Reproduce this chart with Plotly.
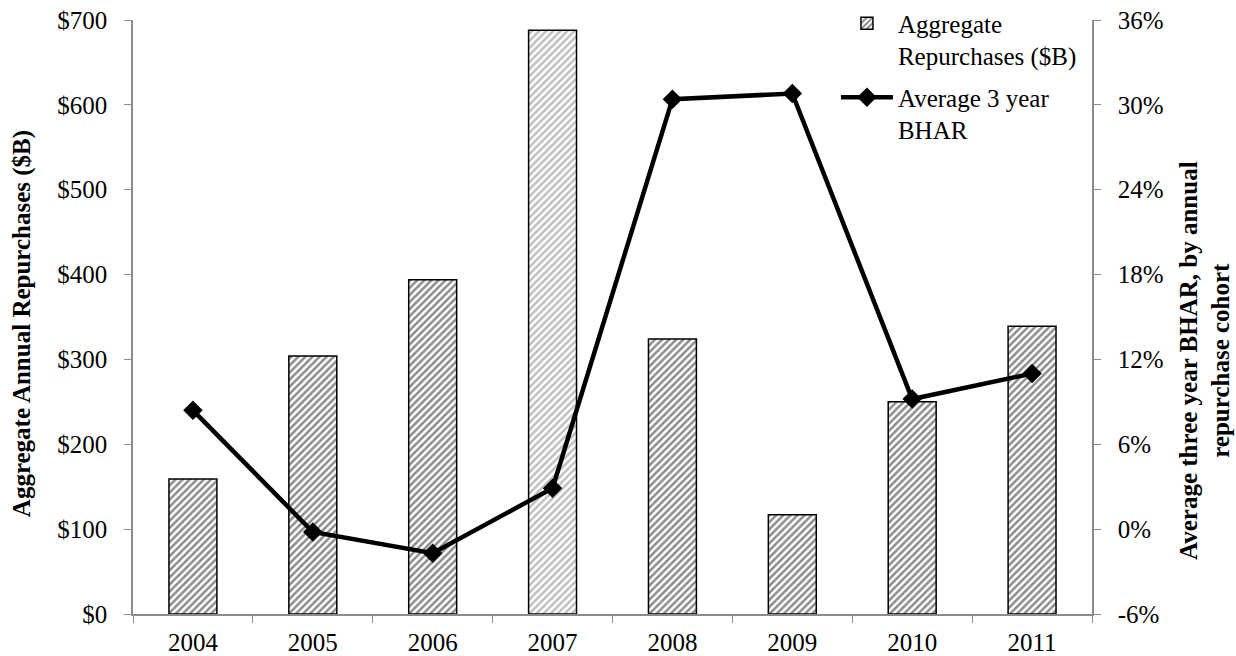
import plotly.graph_objects as go

years = ["2004", "2005", "2006", "2007", "2008", "2009", "2010", "2011"]
repurchases_bn = [159, 304, 394, 688, 324, 117, 250, 339]
bhar_3yr_pct = [8.4, -0.2, -1.7, 2.9, 30.4, 30.8, 9.2, 11.0]
left_ticks = [0, 100, 200, 300, 400, 500, 600, 700]
right_ticks = [-6, 0, 6, 12, 18, 24, 30, 36]

FONT = "Liberation Serif"
AXIS_GRAY = "#8c8c8c"
FS = 25

stripe_colors = ["#1a1a1a"] * len(years)
stripe_colors[3] = "#808080"

fig = go.Figure()

fig.add_trace(go.Bar(
    x=years,
    y=repurchases_bn,
    name="Aggregate<br>Repurchases ($B)",
    legendgroup="bars",
    width=0.4,
    marker=dict(
        color="white",
        line=dict(color="black", width=1.5),
        pattern=dict(shape="/", fgcolor=stripe_colors, bgcolor="white",
                     size=5, solidity=0.5),
    ),
    yaxis="y",
))

fig.add_trace(go.Scatter(
    x=years,
    y=bhar_3yr_pct,
    name="Average 3 year<br>BHAR",
    legendgroup="line",
    mode="lines+markers",
    line=dict(color="black", width=4.5),
    marker=dict(symbol="diamond", size=15, color="black"),
    yaxis="y2",
))

axis_common = dict(
    ticks="outside",
    ticklen=7,
    tickcolor=AXIS_GRAY,
    showline=True,
    linecolor=AXIS_GRAY,
    linewidth=1.5,
    showgrid=False,
    automargin=False,
    tickfont=dict(family=FONT, size=FS, color="black"),
)

fig.update_layout(
    width=1236,
    height=656,
    margin=dict(l=133, r=144, t=20, b=42, autoexpand=False),
    paper_bgcolor="white",
    plot_bgcolor="white",
    font=dict(family=FONT, size=FS, color="black"),
    showlegend=True,
    legend=dict(
        x=0.733, y=1.033, xanchor="left", yanchor="top",
        bgcolor="rgba(255,255,255,0)",
        font=dict(family=FONT, size=FS, color="black"),
        valign="top",
        traceorder="grouped",
        tracegroupgap=6,
        itemwidth=52,
    ),
    xaxis=dict(type="category", tickson="boundaries", ticklabelstandoff=5,
               **axis_common),
    yaxis=dict(
        range=[0, 700],
        tickvals=left_ticks,
        ticktext=[f"${v}" for v in left_ticks],
        zeroline=False,
        ticklabelstandoff=12,
        **axis_common,
    ),
    yaxis2=dict(
        range=[-6, 36],
        tickvals=right_ticks,
        ticktext=[f"{v}%" for v in right_ticks],
        overlaying="y",
        side="right",
        zeroline=False,
        ticklabelstandoff=12,
        **axis_common,
    ),
    annotations=[
        dict(
            text="<b>Aggregate Annual Repurchases ($B)</b>",
            xref="paper", yref="paper",
            x=-0.1157, y=0.488,
            xanchor="center", yanchor="middle",
            textangle=-90, showarrow=False,
            font=dict(family=FONT, size=FS, color="black"),
        ),
        dict(
            text="<b>Average three year BHAR, by annual<br>repurchase cohort</b>",
            xref="paper", yref="paper",
            x=1.1178, y=0.4276,
            xanchor="center", yanchor="middle",
            textangle=-90, showarrow=False,
            font=dict(family=FONT, size=FS, color="black"),
        ),
    ],
)

fig.write_html("out.html")
